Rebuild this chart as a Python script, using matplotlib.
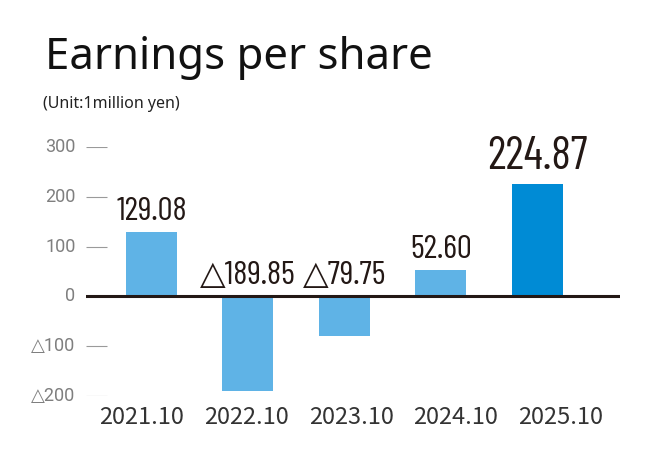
import matplotlib.pyplot as plt

years = ['2021.10', '2022.10', '2023.10', '2024.10', '2025.10']
eps = [129.08, -189.85, -79.75, 52.60, 224.87]
value_labels = ['129.08', '△189.85', '△79.75', '52.60', '224.87']
y_ticks = [-200, -100, 0, 100, 200, 300]
y_tick_labels = ['△200', '△100', '0', '100', '200', '300']

W, H = 654, 466
fig = plt.figure(figsize=(W / 100, H / 100), dpi=100)

# axes area in pixels: x 86..620, y(-200)=396, y(300)=147
ax = fig.add_axes([86 / W, (H - 396) / H, (620 - 86) / W, (396 - 147) / H])
ax.set_xlim(-0.68, 4.86)
ax.set_ylim(-200, 300)
for s in ax.spines.values():
    s.set_visible(False)
ax.set_xticks([])
ax.set_yticks([])

light = '#5fb3e6'
dark = '#008bd5'
colors = [light, light, light, light, dark]
ax.bar(range(len(years)), eps, width=0.53, color=colors, zorder=2)

# zero line and short tick segments
ax.axhline(0, color='#231815', lw=2.2, zorder=3)
for t, lab in zip(y_ticks, y_tick_labels):
    if t != 0:
        ax.hlines(t, -0.68, -0.46, color='#9a9a9a', lw=0.8)
    ax.text(-0.79, t, lab, ha='right', va='center', fontsize=13,
            color='#7f7f7f', family=['Roboto', 'DejaVu Sans'])

# value labels, latest year is bigger
label_font = ['Barlow Condensed', 'DejaVu Sans']
last = len(eps) - 1
for i, (v, lab) in enumerate(zip(eps, value_labels)):
    big = i == last
    y = max(v, 0) + (30 if big else 25)
    ax.text(i, y, lab, ha='center', va='baseline',
            fontsize=33 if big else 24, color='#231815',
            family=label_font, clip_on=False)

# category labels (slightly wider spacing than the bars)
for i, yr in enumerate(years):
    ax.text(i * 1.085 - 0.1, -243, yr, ha='center', va='center', fontsize=17,
            color='#333333', family=['Noto Sans CJK JP', 'DejaVu Sans'],
            clip_on=False)

fig.text(45 / W, 1 - 69 / H, 'Earnings per share', fontsize=31.5,
         family='Noto Sans', color='#111111', va='baseline')
fig.text(43 / W, 1 - 104 / H, '(Unit:1million yen)', fontsize=11.5,
         family='Noto Sans', color='#222222', va='center')

fig.savefig('out.png', dpi=100)
